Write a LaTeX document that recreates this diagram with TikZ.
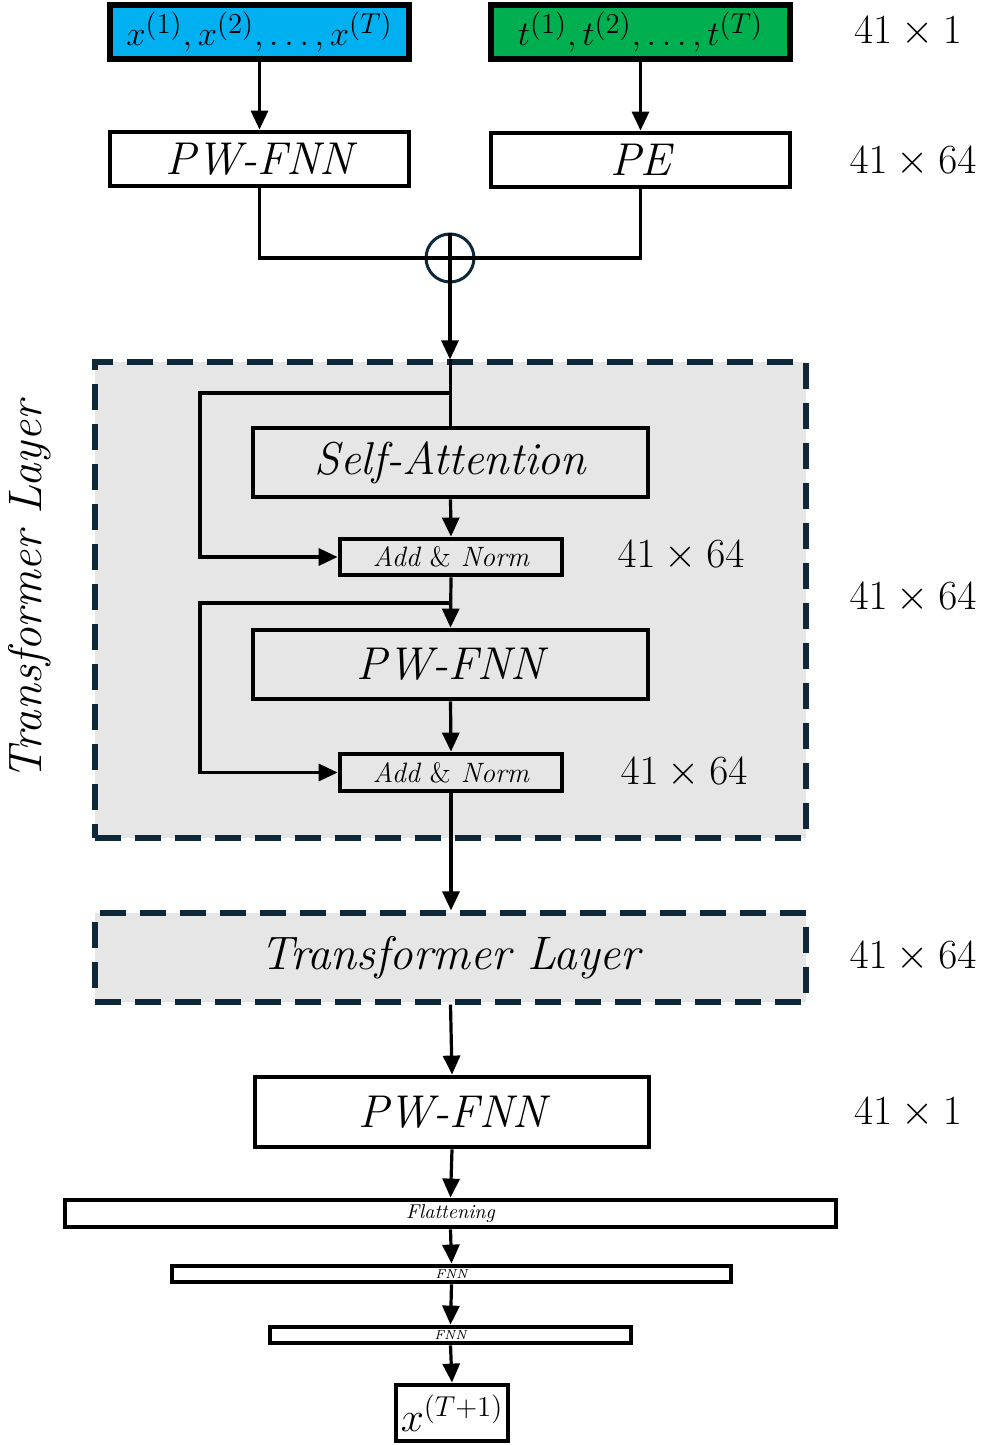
\documentclass[tikz,border=0pt]{standalone}
\usepackage{tikz}
\usetikzlibrary{arrows.meta,calc}
\definecolor{inblue}{RGB}{0,176,240}
\definecolor{tgreen}{RGB}{0,176,80}
\definecolor{navy}{RGB}{14,40,58}
\definecolor{layergray}{RGB}{230,230,230}
\newcommand{\fz}[1]{\fontsize{#1}{#1}\selectfont}
\tikzset{
	blk/.style={draw, line width=2.4pt, inner sep=0pt},
	layer/.style={draw=navy, line width=2.6pt, dash pattern=on 13pt off 7pt, fill=layergray, inner sep=0pt},
	conn/.style={line width=1.6pt},
	arr/.style={line width=1.6pt, -{Triangle[length=9.5pt,width=8.5pt]}},
	dimlbl/.style={font=\fz{22.5}},
}

\begin{document}
\begin{tikzpicture}[x=0.5pt,y=-0.5pt]
				\useasboundingbox (0,0) rectangle (988,1445);
				
				\node[blk, line width=2.6pt, fill=inblue, minimum width=149.5pt, minimum height=27pt, font=\fz{19}] (xin) at (259.5,32) {$x^{(1)},x^{(2)},\ldots,x^{(T)}$};
				\node[blk, line width=2.6pt, fill=tgreen, minimum width=149.5pt, minimum height=27pt, font=\fz{19}] (tin) at (640.5,32) {$t^{(1)},t^{(2)},\ldots,t^{(T)}$};
				\node[dimlbl] (d1) at (908,32) {$41\times 1$};
				
				\node[blk, minimum width=149.5pt, minimum height=27pt, font=\fz{23}\itshape] (fnn1) at (259.5,159) {PW-FNN};
				\node[blk, minimum width=149.5pt, minimum height=27pt, font=\fz{23}\itshape] (pe) at (640.5,160) {PE};
				\node[dimlbl] (d2) at (913,162) {$41\times 64$};
				\draw[arr] (xin.south) -- (fnn1.north);
				\draw[arr] (tin.south) -- (pe.north);
				
				\node[draw=navy, line width=1.5pt, circle, minimum size=24pt, inner sep=0pt] (plus) at (450,258) {};
				\draw[conn] (fnn1.south) |- (plus.center) -| (pe.south);
				
				\node[layer, minimum width=355.5pt, minimum height=238pt] (tl1) at (450.5,600) {};
				\node[rotate=90, font=\fz{23.5}\itshape] (tlname) at (30,591) {Transformer Layer};
				\node[dimlbl] (d3) at (913,598) {$41\times 64$};
				\draw[arr] (plus.north) -- (plus.north |- tl1.north);
				
				\node[blk, minimum width=197.5pt, minimum height=34.5pt, font=\fz{23}\itshape] (sa) at (450.5,462.5) {Self-Attention};
				\node[blk, minimum width=111pt, minimum height=18pt, font=\fz{14}\itshape] (an1) at (451,557) {Add {\upshape\&} Norm};
				\node[dimlbl] (d4) at (681,556) {$41\times 64$};
				\node[blk, minimum width=197.5pt, minimum height=34.5pt, font=\fz{23}\itshape] (fnn2) at (450.5,664.5) {PW-FNN};
				\node[blk, minimum width=111pt, minimum height=18.5pt, font=\fz{14}\itshape] (an2) at (451,772.5) {Add {\upshape\&} Norm};
				\node[dimlbl] (d5) at (684,773) {$41\times 64$};
				
				\coordinate (split1) at (451,393);
				\coordinate (skip1) at (200,393);
				\coordinate (split2) at (451,603);
				\coordinate (skip2) at (200,603);
				\draw[conn] (sa.north |- tl1.north) -- (sa.north);
				\draw[arr] (split1) -- (skip1) |- (an1.west);
				\draw[arr] (sa.south) -- (an1.north);
				\draw[arr] (an1.south) -- (fnn2.north);
				\draw[arr] (split2) -- (skip2) |- (an2.west);
				\draw[arr] (fnn2.south) -- (an2.north);
				
				\node[layer, minimum width=355.5pt, minimum height=44.5pt, font=\fz{23.5}\itshape] (tl2) at (450.5,957.5) {Transformer Layer};
				\node[dimlbl] (d6) at (913,957) {$41\times 64$};
				\draw[arr] (an2.south) -- (an2.south |- tl2.north);
				
				\node[blk, minimum width=197pt, minimum height=35pt, font=\fz{23}\itshape] (fnn3) at (452,1112) {PW-FNN};
				\node[dimlbl] (d7) at (908,1113) {$41\times 1$};
				\draw[arr] (tl2.south) -- (fnn3.north);
				
				\node[blk, minimum width=385.5pt, minimum height=13.5pt, font=\fz{10}\itshape] (flat) at (450.5,1213.5) {Flattening};
				\node[blk, minimum width=279.5pt, minimum height=8pt, font=\fz{6.5}\itshape] (ffn1) at (451.5,1274) {FNN};
				\node[blk, minimum width=180.5pt, minimum height=8pt, font=\fz{6.5}\itshape] (ffn2) at (450.5,1335) {FNN};
				\node[blk, minimum width=56pt, minimum height=28pt, font=\fz{22}] (out) at (452,1413) {$x^{(T+1)}$};
				\draw[arr] (fnn3.south) -- (flat.north);
				\draw[arr] (flat.south) -- (ffn1.north);
				\draw[arr] (ffn1.south) -- (ffn2.north);
				\draw[arr] (ffn2.south) -- (out.north);
			\end{tikzpicture}
\end{document}
